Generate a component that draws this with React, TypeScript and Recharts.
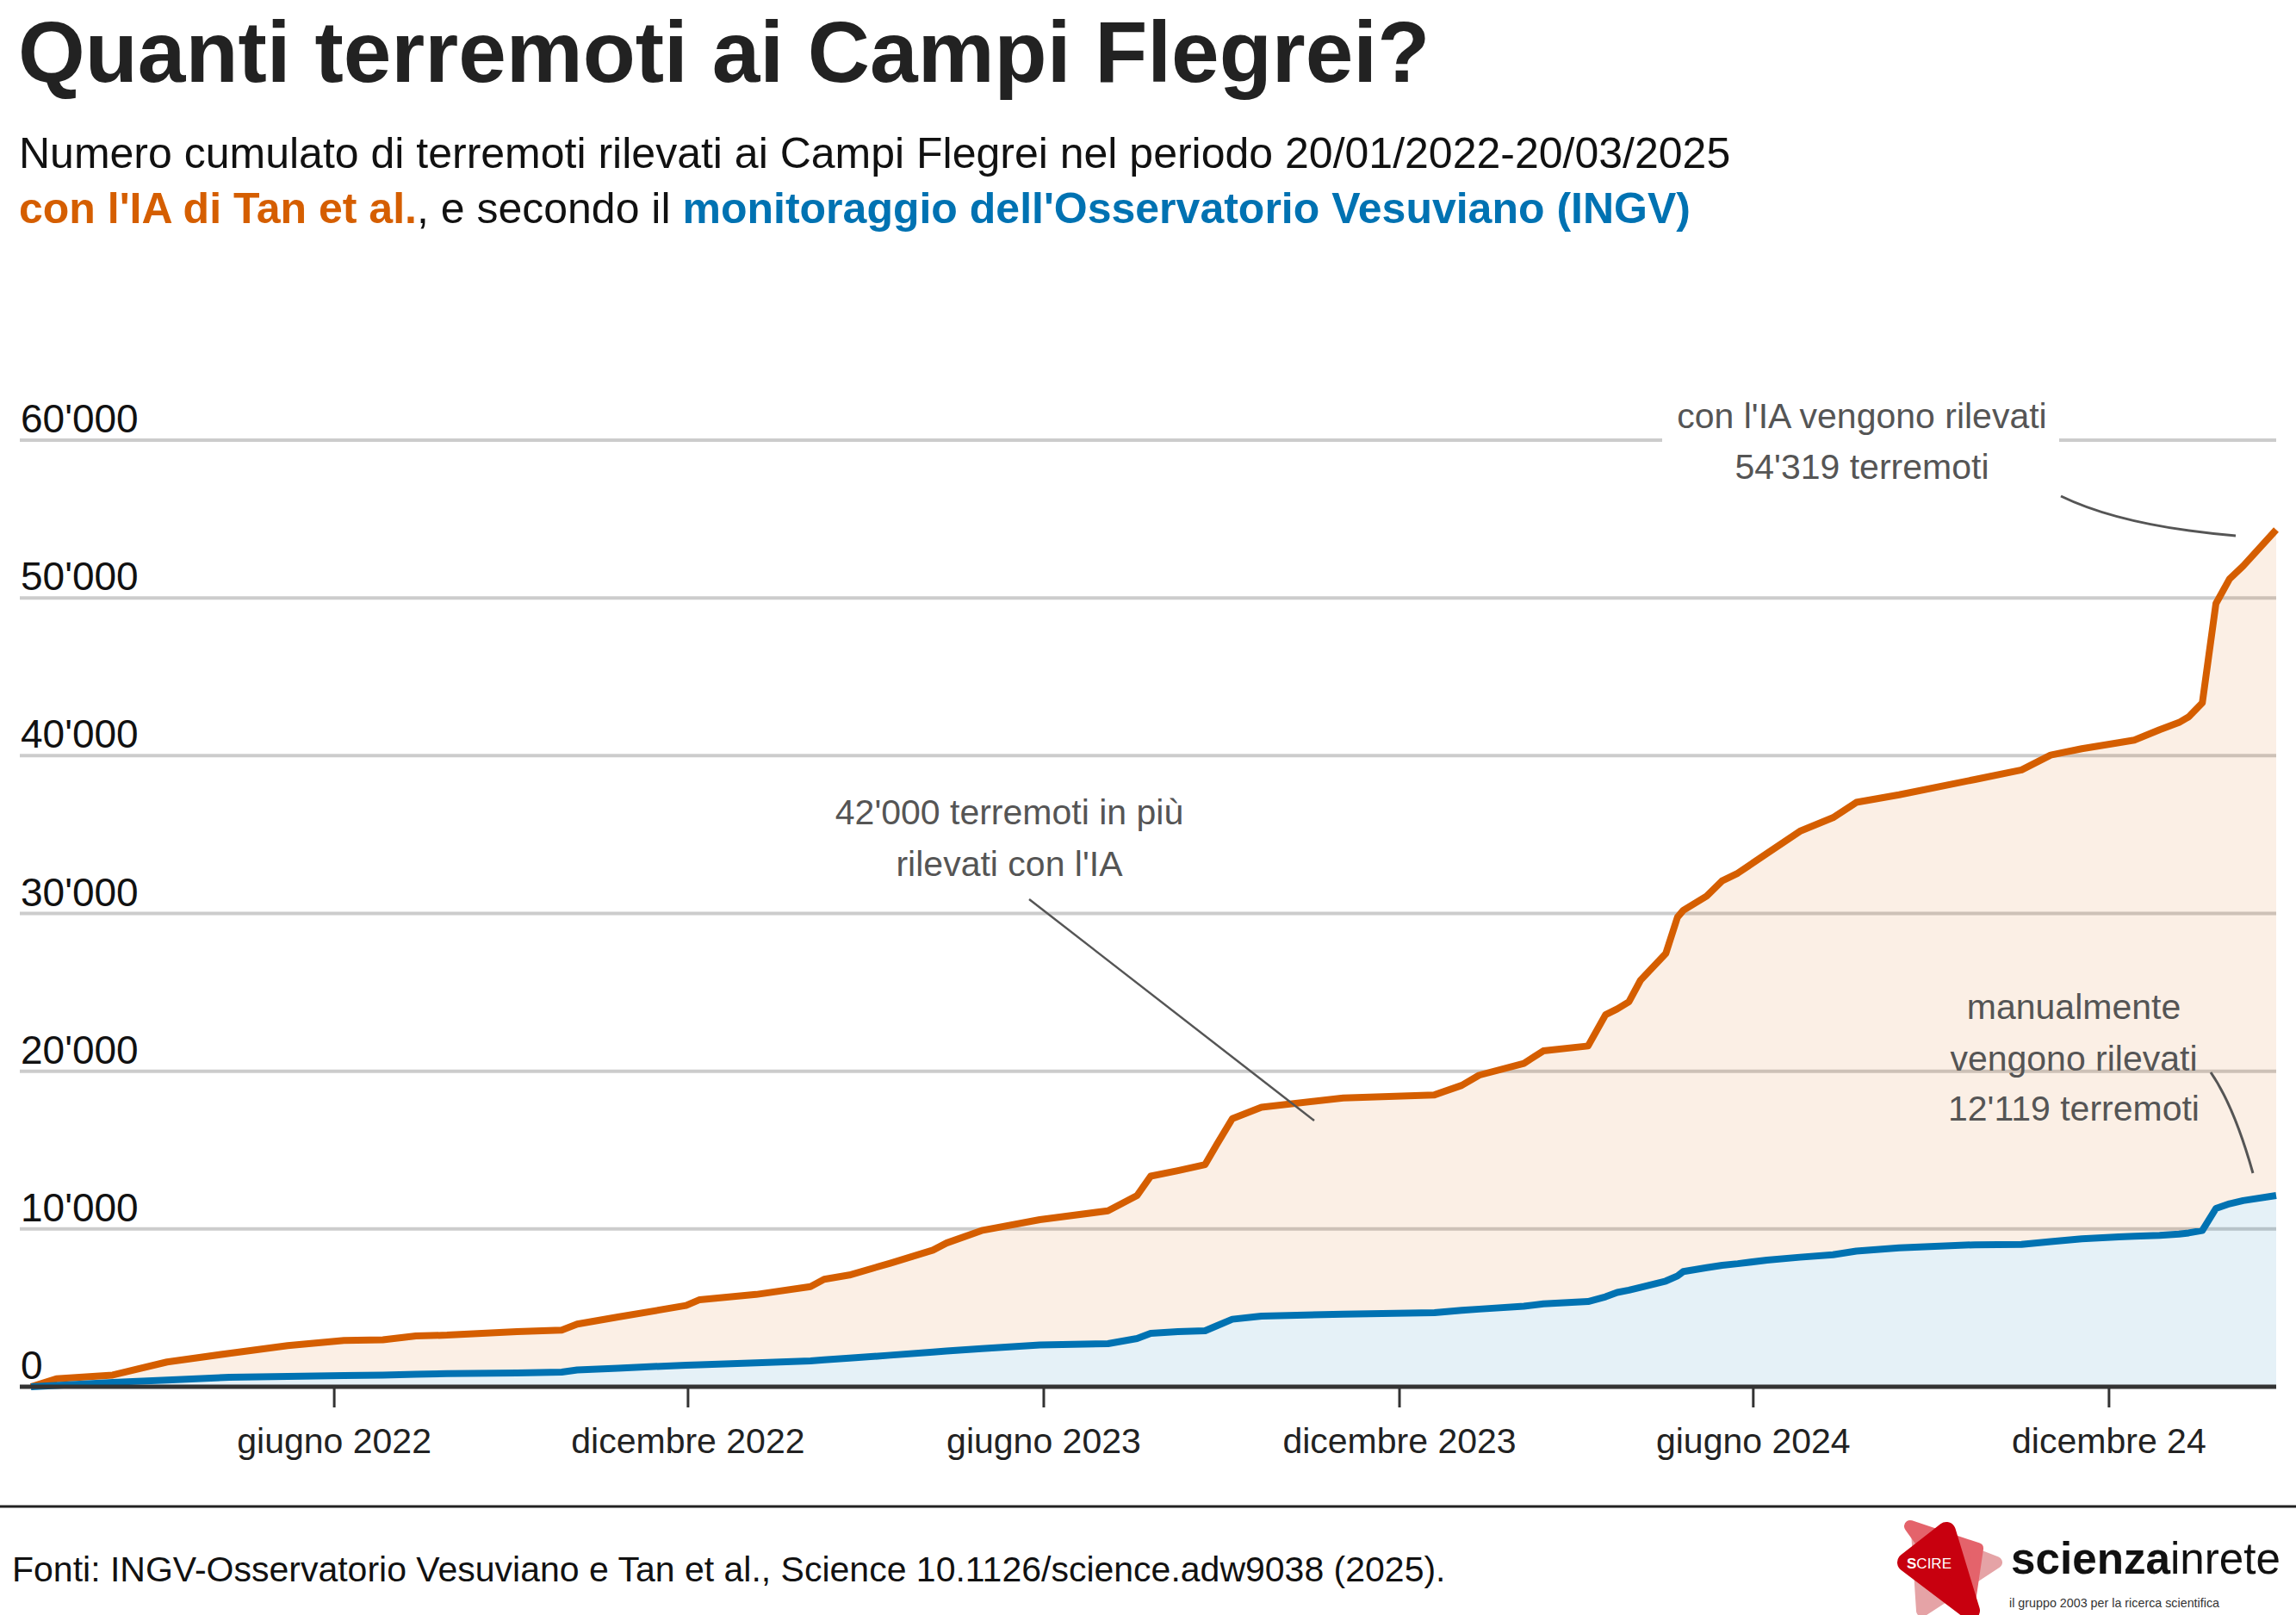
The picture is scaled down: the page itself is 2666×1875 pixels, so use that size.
import React from "react";
import { ComposedChart, Area, Line, XAxis, YAxis, CartesianGrid } from "recharts";

/**
 * Quanti terremoti ai Campi Flegrei?
 * Cumulative earthquakes 20/01/2022-20/03/2025: AI detection (Tan et al.) vs INGV catalogue.
 */

// sampling dates
const dates = [
  "2022-01-20", "2022-02-02", "2022-03-03", "2022-03-31", "2022-05-02", "2022-06-01", "2022-06-30", "2022-07-20", "2022-08-06", "2022-08-22",
  "2022-09-27", "2022-10-20", "2022-10-28", "2022-11-18", "2022-12-23", "2022-12-30", "2023-01-28", "2023-02-25", "2023-03-04", "2023-03-17",
  "2023-04-07", "2023-04-29", "2023-05-06", "2023-05-24", "2023-06-23", "2023-07-28", "2023-08-12", "2023-08-19", "2023-09-02", "2023-09-16",
  "2023-09-22", "2023-09-30", "2023-10-15", "2023-11-26", "2024-01-12", "2024-01-26", "2024-02-04", "2024-02-27", "2024-03-08", "2024-03-31",
  "2024-04-09", "2024-04-15", "2024-04-21", "2024-04-27", "2024-05-10", "2024-05-16", "2024-05-19", "2024-05-31", "2024-06-08", "2024-06-16",
  "2024-07-01", "2024-07-18", "2024-08-04", "2024-08-16", "2024-09-07", "2024-10-16", "2024-11-09", "2024-11-24", "2024-12-10", "2024-12-29",
  "2025-01-06", "2025-01-19", "2025-01-29", "2025-02-03", "2025-02-10", "2025-02-17", "2025-02-24", "2025-03-03", "2025-03-20",
];

// cumulative count, AI catalogue (Tan et al.)
const iaCount = [
  0, 500, 740, 1570, 2120, 2610, 2940, 2980, 3220, 3270,
  3500, 3590, 3970, 4420, 5150, 5520, 5850, 6350, 6810, 7080,
  7830, 8660, 9110, 9900, 10590, 11150, 12120, 13350, 13700, 14080,
  15350, 16990, 17720, 18300, 18500, 19100, 19750, 20500, 21290, 21600,
  23580, 23950, 24400, 25770, 27460, 29760, 30200, 31100, 32070, 32550,
  33800, 35210, 36070, 37040, 37520, 38490, 39100, 40040, 40440, 40820,
  40990, 41640, 42100, 42460, 43350, 49640, 51200, 52020, 54319,
];

// cumulative count, INGV Osservatorio Vesuviano
const ingvCount = [
  0, 80, 280, 420, 600, 650, 710, 740, 790, 830,
  870, 925, 1060, 1180, 1370, 1390, 1520, 1640, 1700, 1810,
  2000, 2200, 2270, 2420, 2650, 2730, 3060, 3390, 3500, 3550,
  3860, 4280, 4480, 4600, 4700, 4840, 4920, 5100, 5250, 5400,
  5700, 5980, 6120, 6300, 6700, 7020, 7300, 7550, 7700, 7800,
  8030, 8210, 8370, 8600, 8800, 9000, 9020, 9200, 9380, 9500,
  9540, 9600, 9680, 9750, 9900, 11300, 11600, 11800, 12119,
];

const yTicks = [0, 10000, 20000, 30000, 40000, 50000, 60000];
const xTickDates = ["2022-06-25", "2022-12-24", "2023-06-25", "2023-12-25", "2024-06-24", "2024-12-24"];
const xTickLabels = ["giugno 2022", "dicembre 2022", "giugno 2023", "dicembre 2023", "giugno 2024", "dicembre 24"];

const W = 2666;
const H = 1875;
const ORANGE = "#D55E00";
const BLUE = "#0072B2";
const FONT = '"Liberation Sans", Arial, Helvetica, sans-serif';
const DAY = 86400000;

if (typeof document !== "undefined") document.body.style.margin = "0";

const toTs = (d: string) => Date.parse(d + "T00:00:00Z");

const rows = dates.map((d, i) => ({ t: toTs(d), ia: iaCount[i], ingv: ingvCount[i] }));
const xTicks = xTickDates.map(toTs);
const xDomain = [toTs(dates[0]) - 5.76 * DAY, toTs(dates[dates.length - 1])];

function fmtThousands(v: number): string {
  if (v < 1000) return `${v}`;
  return `${Math.floor(v / 1000)}'${String(v % 1000).padStart(3, "0")}`;
}

function YTick({ x, y, payload }: any) {
  return (
    <text x={x + 1} y={y - 9} textAnchor="start" fontFamily={FONT} fontSize={46} fill="#111">
      {fmtThousands(payload.value)}
    </text>
  );
}

function XTick({ x, y, payload }: any) {
  const i = xTicks.indexOf(payload.value);
  return (
    <text x={x} y={y + 53} textAnchor="middle" fontFamily={FONT} fontSize={41} fill="#222">
      {i >= 0 ? xTickLabels[i] : ""}
    </text>
  );
}

function Logo() {
  return (
    <g>
      <path d="M2226 1778 L2318 1814 L2232 1870 Z" fill="#E5A3A6" stroke="#E5A3A6" strokeWidth={14} strokeLinejoin="round" />
      <path d="M2218 1772 L2296 1798 L2286 1866 Z" fill="#E4636B" stroke="#E4636B" strokeWidth={14} strokeLinejoin="round" />
      <path d="M2214 1814 L2260 1778 L2288 1870 Z" fill="#C8000F" stroke="#C8000F" strokeWidth={22} strokeLinejoin="round" />
      <text x={2240} y={1821} textAnchor="middle" fontFamily={FONT} fontSize={17} fill="#fff">
        <tspan fontWeight="bold">S</tspan>CIRE
      </text>
      <text x={2335} y={1827} fontFamily={FONT} fontSize={52} fill="#111" textLength={313} lengthAdjust="spacingAndGlyphs">
        <tspan fontWeight="bold">scienza</tspan>
        <tspan fontWeight={300}>inrete</tspan>
      </text>
      <text x={2333} y={1866} fontFamily={FONT} fontSize={15} fill="#333" textLength={244} lengthAdjust="spacingAndGlyphs">
        il gruppo 2003 per la ricerca scientifica
      </text>
    </g>
  );
}

export default function App() {
  return (
    <div style={{ position: "relative", width: W, height: H, background: "#fff", overflow: "hidden" }}>
      <div style={{ position: "absolute", left: 0, top: 0 }}>
        <ComposedChart width={W} height={H} data={rows} margin={{ top: 511, right: 23, bottom: 0, left: 22 }}>
          <CartesianGrid vertical={false} stroke="#CCCCCC" strokeWidth={4} />
          <XAxis
            dataKey="t"
            type="number"
            domain={xDomain}
            ticks={xTicks}
            interval={0}
            height={265}
            axisLine={{ stroke: "#333", strokeWidth: 5 }}
            tickLine={{ stroke: "#333", strokeWidth: 3 }}
            tickSize={24}
            tickMargin={0}
            tick={<XTick />}
          />
          <YAxis
            type="number"
            domain={[0, 60000]}
            ticks={yTicks}
            interval={0}
            width={1}
            axisLine={false}
            tickLine={false}
            tickSize={0}
            tickMargin={0}
            tick={<YTick />}
          />
          <Area dataKey="ingv" type="linear" fill={BLUE} fillOpacity={0.1} stroke="none" isAnimationActive={false} />
          <Area
            dataKey={(d: any) => [d.ingv, d.ia]}
            type="linear"
            fill={ORANGE}
            fillOpacity={0.1}
            stroke="none"
            isAnimationActive={false}
          />
          <Line dataKey="ia" type="linear" stroke={ORANGE} strokeWidth={8} dot={false} strokeLinejoin="round" isAnimationActive={false} />
          <Line dataKey="ingv" type="linear" stroke={BLUE} strokeWidth={8} dot={false} strokeLinejoin="round" isAnimationActive={false} />
        </ComposedChart>
      </div>

      <svg width={W} height={H} style={{ position: "absolute", left: 0, top: 0, pointerEvents: "none" }}>
        <text x={21} y={95} fontFamily={FONT} fontSize={100} fontWeight="bold" fill="#222">
          Quanti terremoti ai Campi Flegrei?
        </text>
        <text x={22} y={195} fontFamily={FONT} fontSize={50} fill="#111">
          Numero cumulato di terremoti rilevati ai Campi Flegrei nel periodo 20/01/2022-20/03/2025
        </text>
        <text x={22} y={259} fontFamily={FONT} fontSize={50} fill="#111">
          <tspan fontWeight="bold" fill={ORANGE}>con l'IA di Tan et al.</tspan>
          <tspan>, e secondo il </tspan>
          <tspan fontWeight="bold" fill={BLUE}>monitoraggio dell'Osservatorio Vesuviano (INGV)</tspan>
        </text>

        {/* annotation: difference */}
        <g fontFamily={FONT} fontSize={41} fill="#555" textAnchor="middle">
          <text x={1172} y={957}>42'000 terremoti in più</text>
          <text x={1172} y={1017}>rilevati con l'IA</text>
        </g>
        <path d="M1195 1044 L1526 1301" stroke="#555" strokeWidth={2.5} fill="none" />

        {/* annotation: AI total */}
        <rect x={1930} y={455} width={461} height={115} fill="#fff" />
        <g fontFamily={FONT} fontSize={41} fill="#555" textAnchor="middle">
          <text x={2162} y={497}>con l'IA vengono rilevati</text>
          <text x={2162} y={556}>54'319 terremoti</text>
        </g>
        <path d="M2393 576 Q2465 611 2596 622" stroke="#555" strokeWidth={3} fill="none" />

        {/* annotation: manual total */}
        <g fontFamily={FONT} fontSize={41} fill="#555" textAnchor="middle">
          <text x={2408} y={1183}>manualmente</text>
          <text x={2408} y={1243}>vengono rilevati</text>
          <text x={2408} y={1301}>12'119 terremoti</text>
        </g>
        <path d="M2567 1245 Q2594 1284 2616 1362" stroke="#555" strokeWidth={3} fill="none" />

        <line x1={0} x2={W} y1={1749} y2={1749} stroke="#222" strokeWidth={3} />
        <text x={14} y={1836} fontFamily={FONT} fontSize={41} fill="#111">
          Fonti: INGV-Osservatorio Vesuviano e Tan et al., Science 10.1126/science.adw9038 (2025).
        </text>
        <Logo />
      </svg>
    </div>
  );
}
